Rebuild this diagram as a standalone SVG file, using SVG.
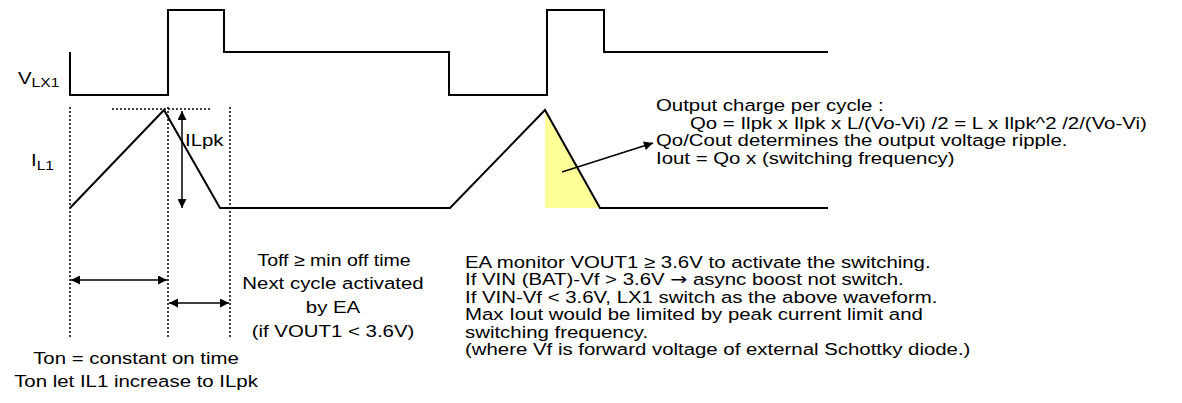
<svg xmlns="http://www.w3.org/2000/svg" width="1182" height="403" viewBox="0 0 1182 403">
<style>
.w{fill:none;stroke:#000;stroke-width:2;stroke-linejoin:miter}
.d{fill:none;stroke:#000;stroke-width:1.5;stroke-dasharray:2 2}
.a{fill:none;stroke:#000;stroke-width:1.5}
text{font-family:"Liberation Sans",Arial,sans-serif;font-size:17px;fill:#000}
.c{text-anchor:middle}
.arw{font-family:"DejaVu Sans",sans-serif}
</style>
<defs>
<marker id="ah" viewBox="0 0 10 10" refX="10" refY="5" markerWidth="11" markerHeight="9" markerUnits="userSpaceOnUse" orient="auto-start-reverse"><path d="M0,0 L10,5 L0,10 z" fill="#000"/></marker>
</defs>
<rect width="1182" height="403" fill="#fff"/>
<g id="vlx1-wave"><path class="w" d="M70,52 V95 H168 V10 H224 V52 H449 V95 H547 V10 H604 V52 H828"/></g>
<g id="il1-wave">
<polygon fill="#FFFF99" points="545,110 545,208 600,208"/>
<path class="w" d="M70,208 L164,110 L220,208 H450 L545,110 L600,208 H828"/>
</g>
<g id="guides">
<line class="d" x1="70" y1="107" x2="70" y2="337"/>
<line class="d" x1="168" y1="107" x2="168" y2="337"/>
<line class="d" x1="230" y1="107" x2="230" y2="337"/>
<line class="d" x1="112" y1="109" x2="212" y2="109"/>
</g>
<g id="connectors">
<line class="a" x1="182" y1="111" x2="182" y2="208" marker-start="url(#ah)" marker-end="url(#ah)"/>
<line class="a" x1="71" y1="280" x2="167" y2="280" marker-start="url(#ah)" marker-end="url(#ah)"/>
<line class="a" x1="169" y1="303" x2="229" y2="303" marker-start="url(#ah)" marker-end="url(#ah)"/>
<line class="a" x1="562" y1="172" x2="653" y2="143" marker-end="url(#ah)"/>
</g>
<g id="label-vlx1"><text transform="translate(18,84) scale(1.2,1)">V<tspan font-size="13" dy="3">LX1</tspan></text></g>
<g id="label-il1"><text transform="translate(31,166) scale(1.2,1)">I<tspan font-size="13" dy="4">L1</tspan></text></g>
<g id="label-ilpk"><text transform="translate(185,146) scale(1.2,1)">ILpk</text></g>
<g id="label-toff">
<text class="c" transform="translate(334,266) scale(1.15,1)">Toff ≥ min off time</text>
<text class="c" transform="translate(333,289) scale(1.2,1)">Next cycle activated</text>
<text class="c" transform="translate(333,313) scale(1.2,1)">by EA</text>
<text class="c" transform="translate(333,337) scale(1.2,1)">(if VOUT1 &lt; 3.6V)</text>
</g>
<g id="label-ton">
<text class="c" transform="translate(136,364) scale(1.2,1)">Ton = constant on time</text>
<text class="c" transform="translate(136,387) scale(1.2,1)">Ton let IL1 increase to ILpk</text>
</g>
<g id="label-output">
<text transform="translate(656,111) scale(1.2,1)">Output charge per cycle :</text>
<text transform="translate(690,129) scale(1.2,1)">Qo = Ilpk x Ilpk x L/(Vo-Vi) /2 = L x Ilpk^2 /2/(Vo-Vi)</text>
<text transform="translate(656,146) scale(1.2,1)">Qo/Cout determines the output voltage ripple.</text>
<text transform="translate(656,164) scale(1.2,1)">Iout = Qo x (switching frequency)</text>
</g>
<g id="label-ea">
<text transform="translate(465,268) scale(1.2,1)">EA monitor VOUT1 ≥ 3.6V to activate the switching.</text>
<text transform="translate(465,285) scale(1.2,1)">If VIN (BAT)-Vf &gt; 3.6V <tspan class="arw">→</tspan> async boost not switch.</text>
<text transform="translate(465,303) scale(1.2,1)">If VIN-Vf &lt; 3.6V, LX1 switch as the above waveform.</text>
<text transform="translate(465,320) scale(1.2,1)">Max Iout would be limited by peak current limit and</text>
<text transform="translate(465,338) scale(1.2,1)">switching frequency.</text>
<text transform="translate(465,355) scale(1.2,1)">(where Vf is forward voltage of external Schottky diode.)</text>
</g>
</svg>
